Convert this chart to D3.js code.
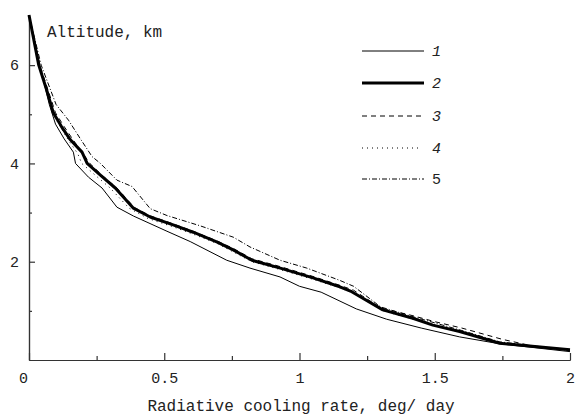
<!DOCTYPE html>
<html>
<head>
<meta charset="utf-8">
<script src="https://cdn.jsdelivr.net/npm/d3@7"></script>
<style>
  body { margin: 0; background: #fff; }
  text { font-family: "Liberation Mono", "DejaVu Sans Mono", monospace; fill: #222; }
</style>
</head>
<body>
<div id="chart"></div>
<script>
// datos: [rate deg/day, altitude km]
const curve1 = [[0,7.02],[0.04,6.0],[0.075,5.2],[0.098,4.8],[0.13,4.5],[0.164,4.23],[0.172,4.0],[0.22,3.72],[0.27,3.5],[0.325,3.11],[0.386,2.93],[0.51,2.62],[0.596,2.41],[0.731,2.03],[0.817,1.87],[0.928,1.69],[1.0,1.5],[1.08,1.38],[1.21,1.04],[1.322,0.83],[1.45,0.65],[1.592,0.47],[1.74,0.33],[2.0,0.17]];
const curve2 = [[0,7.02],[0.036,6.0],[0.065,5.5],[0.09,5.03],[0.12,4.75],[0.153,4.48],[0.196,4.23],[0.215,4.0],[0.264,3.76],[0.319,3.5],[0.386,3.09],[0.448,2.91],[0.533,2.75],[0.607,2.6],[0.696,2.4],[0.755,2.24],[0.824,2.03],[0.929,1.87],[1.05,1.67],[1.149,1.49],[1.193,1.39],[1.308,1.02],[1.419,0.85],[1.493,0.71],[1.592,0.58],[1.74,0.34],[2.0,0.21]];
const curve3 = [[0,7.02],[0.04,6.0],[0.07,5.5],[0.098,5.03],[0.13,4.75],[0.163,4.48],[0.2,4.2],[0.225,4.0],[0.27,3.76],[0.325,3.5],[0.39,3.1],[0.45,2.93],[0.533,2.77],[0.607,2.62],[0.696,2.42],[0.755,2.27],[0.824,2.06],[0.929,1.9],[1.05,1.7],[1.149,1.52],[1.2,1.42],[1.3,1.06],[1.42,0.9],[1.5,0.78],[1.6,0.65],[1.75,0.42],[1.85,0.3],[2.0,0.21]];
const curve4 = [[0,7.02],[0.038,6.0],[0.068,5.5],[0.09,5.0],[0.115,4.75],[0.145,4.48],[0.18,4.2],[0.195,4.0],[0.245,3.76],[0.3,3.5],[0.37,3.09],[0.44,2.88],[0.533,2.71],[0.607,2.56],[0.696,2.37],[0.755,2.2],[0.824,2.0],[0.929,1.84],[1.05,1.64],[1.149,1.47],[1.2,1.36],[1.31,1.0],[1.42,0.83],[1.5,0.7],[1.6,0.56],[1.74,0.35],[2.0,0.19]];
const curve5 = [[0,7.02],[0.045,6.0],[0.1,5.2],[0.146,4.88],[0.19,4.5],[0.233,4.14],[0.264,4.0],[0.325,3.66],[0.381,3.53],[0.448,3.08],[0.51,2.94],[0.633,2.73],[0.755,2.5],[0.817,2.3],[0.928,2.03],[1.027,1.87],[1.149,1.62],[1.2,1.5],[1.3,1.08],[1.42,0.88],[1.6,0.6],[1.74,0.37],[2.0,0.2]];

const labels = ["1", "2", "3", "4", "5"];
const xTicks = [0, 0.5, 1, 1.5, 2];
const xMinor = [0.25, 0.75, 1.25, 1.75];
const yTicks = [2, 4, 6];
const yMinor = [1, 3, 5];

const svgWidth = 575, svgHeight = 415;
const margin = { top: 16, right: 5, bottom: 55, left: 29 };
const chartWidth = svgWidth - margin.left - margin.right;
const chartHeight = svgHeight - margin.top - margin.bottom;

const svg = d3.select("#chart").append("svg")
    .attr("width", svgWidth)
    .attr("height", svgHeight);

const chartGroup = svg.append("g")
    .attr("transform", `translate(${margin.left}, ${margin.top})`);

const xScale = d3.scaleLinear().domain([0, 2]).range([0, chartWidth]);
const yScale = d3.scaleLinear().domain([0, 7]).range([chartHeight, 0]);

// ejes con ticks hacia dentro
const xAxis = d3.axisBottom(xScale).tickValues(xTicks).tickSize(-7).tickSizeOuter(0)
    .tickPadding(12).tickFormat(d => String(d));
const xAxisMinor = d3.axisBottom(xScale).tickValues(xMinor).tickSize(-4).tickSizeOuter(0).tickFormat("");
const yAxis = d3.axisLeft(yScale).tickValues(yTicks).tickSize(-6).tickSizeOuter(0)
    .tickPadding(10).tickFormat(d => String(d));
const yAxisMinor = d3.axisLeft(yScale).tickValues(yMinor).tickSize(-3).tickSizeOuter(0).tickFormat("");

function styleAxis(g) {
    g.selectAll("path, line").attr("stroke", "#333").attr("stroke-width", 1.2);
    g.selectAll("text").attr("font-family", "Liberation Mono, monospace").attr("font-size", 15).attr("fill", "#222");
}

chartGroup.append("g").attr("transform", `translate(0, ${chartHeight})`).call(xAxisMinor).call(styleAxis);
chartGroup.append("g").attr("transform", `translate(0, ${chartHeight})`).call(xAxis).call(styleAxis);
chartGroup.append("g").call(yAxisMinor).call(styleAxis);
chartGroup.append("g").call(yAxis).call(styleAxis);

chartGroup.selectAll(".tick text").filter(d => d === 0).attr("dx", -6);

const styles = [
    { width: 1, dash: null },
    { width: 3, dash: null },
    { width: 1, dash: "5,4" },
    { width: 1, dash: "1,4" },
    { width: 1, dash: "5,2,1,2" }
];

const line = d3.line()
    .x(d => xScale(d[0]))
    .y(d => yScale(d[1]));

const curves = [curve1, curve2, curve3, curve4, curve5];
// dibujar la gruesa al final
[0, 2, 3, 4, 1].forEach(i => {
    chartGroup.append("path")
        .datum(curves[i])
        .attr("d", line)
        .attr("fill", "none")
        .attr("stroke", "#000")
        .attr("stroke-width", styles[i].width)
        .attr("stroke-dasharray", styles[i].dash)
        .attr("stroke-linejoin", "round");
});

// leyenda
const legend = svg.append("g");
const rowY = [51, 83, 116, 148, 179];
labels.forEach((lab, i) => {
    legend.append("line")
        .attr("x1", 362).attr("x2", i === 3 ? 420 : 424)
        .attr("y1", rowY[i]).attr("y2", rowY[i])
        .attr("stroke", "#000")
        .attr("stroke-width", styles[i].width)
        .attr("stroke-dasharray", styles[i].dash);
    legend.append("text")
        .attr("x", 432).attr("y", rowY[i] + 5)
        .attr("font-family", "DejaVu Sans, sans-serif")
        .attr("font-style", i === 4 ? "normal" : "italic")
        .attr("font-size", 15)
        .text(lab);
});

// titulos
svg.append("text")
    .attr("x", 47).attr("y", 37)
    .attr("font-size", 16)
    .text("Altitude, km");

svg.append("text")
    .attr("x", 301).attr("y", 411)
    .attr("text-anchor", "middle")
    .attr("font-size", 16)
    .text("Radiative cooling rate, deg/ day");
</script>
</body>
</html>
